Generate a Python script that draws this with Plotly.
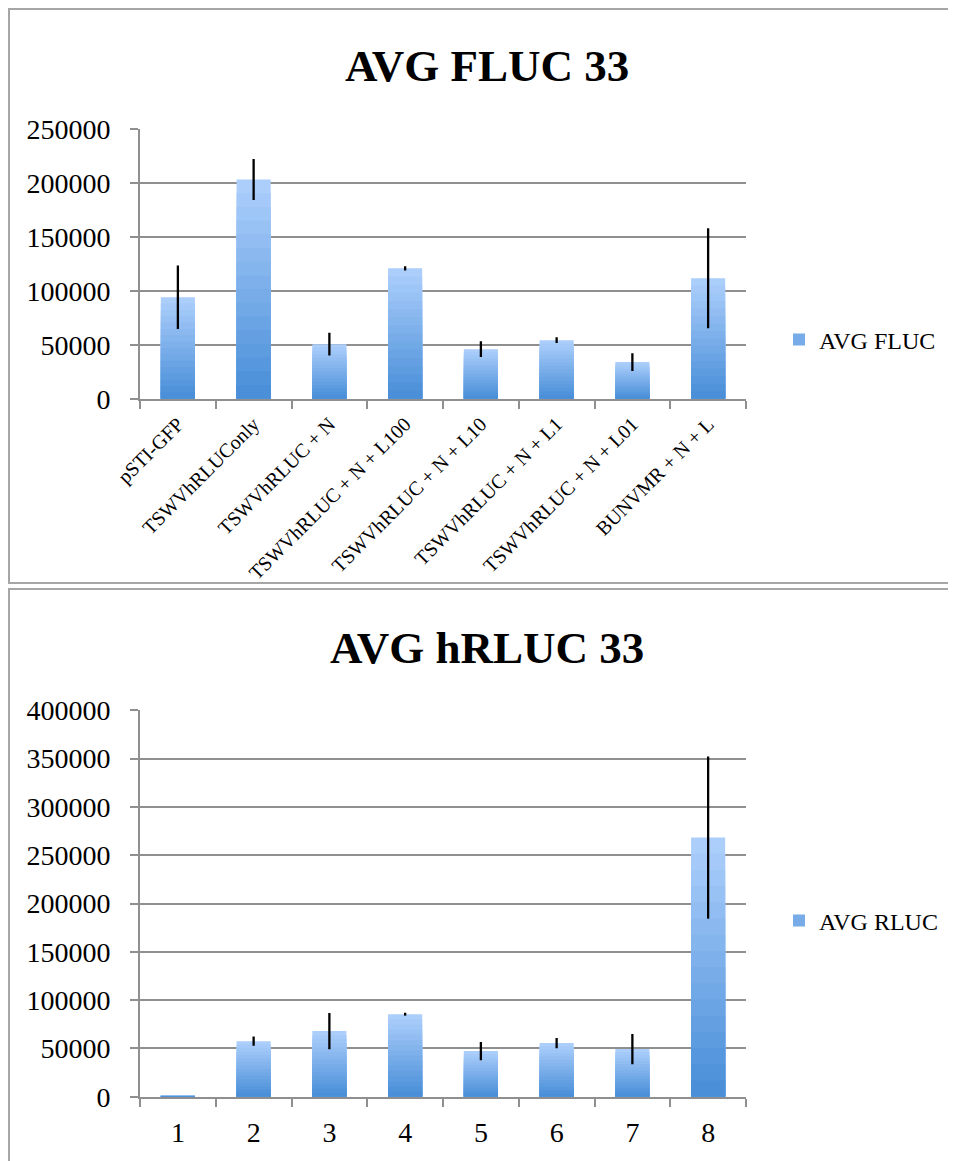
import plotly.graph_objects as go
from plotly.subplots import make_subplots

# values
constructs = ["pSTI-GFP", "TSWVhRLUConly", "TSWVhRLUC + N", "TSWVhRLUC + N + L100",
              "TSWVhRLUC + N + L10", "TSWVhRLUC + N + L1", "TSWVhRLUC + N + L01",
              "BUNVMR + N + L"]
fluc_avg = [94200, 203400, 50600, 121000, 46000, 54300, 34000, 111700]
fluc_err = [29500, 19000, 10500, 2000, 7400, 2700, 8200, 46400]

samples = ["1", "2", "3", "4", "5", "6", "7", "8"]
rluc_avg = [600, 57500, 67900, 85400, 47200, 55500, 49300, 268300]
rluc_err = [0, 4800, 18700, 1500, 9500, 5300, 15700, 84000]

W, H = 956, 1161
PAGE = 8  # the page puts the plot 8px in from the corner
GRID = "#8f8f8f"
FONT = "Liberation Serif"
LIGHT = (171, 206, 251)
DARK = (74, 143, 216)
STEPS = 16


def px_x(p):
    return (p - PAGE) / W


def px_y(p):
    return 1 - (p - PAGE) / H


def blend(a, b, t):
    return "rgb(%d,%d,%d)" % tuple(round(a[k] + (b[k] - a[k]) * t) for k in range(3))


def add_series(fig, cats, vals, errs, row, name, legend):
    # gradient bars: full bar in light colour, shorter darker bars drawn over it
    for i in range(STEPS):
        frac = (STEPS - i) / STEPS
        fig.add_trace(go.Bar(
            x=cats, y=[v * frac for v in vals],
            marker=dict(color=blend(LIGHT, DARK, i / (STEPS - 1)), line_width=0),
            width=0.45, name=name, legend=legend,
            showlegend=(i == STEPS // 2), hoverinfo="skip"), row=row, col=1)
    fig.add_trace(go.Scatter(
        x=cats, y=vals, mode="markers",
        marker=dict(color="rgba(0,0,0,0)", size=1),
        error_y=dict(type="data", array=errs, color="black", thickness=2.3, width=0),
        showlegend=False, hoverinfo="skip"), row=row, col=1)


fig = make_subplots(rows=2, cols=1)
add_series(fig, constructs, fluc_avg, fluc_err, 1, "AVG FLUC", "legend")
add_series(fig, samples, rluc_avg, rluc_err, 2, "AVG RLUC", "legend2")

yax = dict(showgrid=True, gridcolor=GRID, gridwidth=2, showline=True, linecolor=GRID,
           linewidth=2, ticks="outside", ticklen=8, tickcolor=GRID, tickwidth=2,
           zeroline=False, dtick=50000, tickformat="d", ticklabelstandoff=14,
           tickfont=dict(size=28), automargin=False)
xax = dict(type="category", showline=True, linecolor=GRID, linewidth=2, ticks="outside",
           tickson="boundaries", ticklen=8, tickcolor=GRID, tickwidth=2, showgrid=False,
           domain=[px_x(140), px_x(746)], automargin=False)

fig.update_layout(
    width=W, height=H, margin=dict(l=0, r=0, t=0, b=0),
    paper_bgcolor="white", plot_bgcolor="white", barmode="overlay",
    font=dict(family=FONT, size=26, color="black"),
    xaxis=dict(xax, tickangle=-45, tickfont=dict(size=20), ticklabelstandoff=4),
    xaxis2=dict(xax, tickfont=dict(size=28), ticklabelstandoff=10),
    yaxis=dict(yax, range=[0, 250000], domain=[px_y(398.7), px_y(129.3)]),
    yaxis2=dict(yax, range=[0, 400000], domain=[px_y(1096.7), px_y(710.3)]),
    legend=dict(x=px_x(779), xanchor="left", y=px_y(340), yanchor="middle",
                font=dict(size=24), bgcolor="rgba(0,0,0,0)"),
    legend2=dict(x=px_x(779), xanchor="left", y=px_y(921), yanchor="middle",
                 font=dict(size=24), bgcolor="rgba(0,0,0,0)"),
    annotations=[
        dict(text="<b>AVG FLUC 33</b>", x=px_x(487), y=px_y(66), xref="paper", yref="paper",
             showarrow=False, font=dict(size=45), yanchor="middle"),
        dict(text="<b>AVG hRLUC 33</b>", x=px_x(487), y=px_y(648), xref="paper", yref="paper",
             showarrow=False, font=dict(size=45), yanchor="middle"),
    ],
    shapes=[
        dict(type="rect", xref="paper", yref="paper", x0=px_x(9), x1=px_x(990),
             y0=px_y(583), y1=px_y(9), line=dict(color="#a6a6a6", width=2)),
        dict(type="rect", xref="paper", yref="paper", x0=px_x(9), x1=px_x(990),
             y0=px_y(1200), y1=px_y(589), line=dict(color="#a6a6a6", width=2)),
    ],
)

fig.write_html("out.html")
